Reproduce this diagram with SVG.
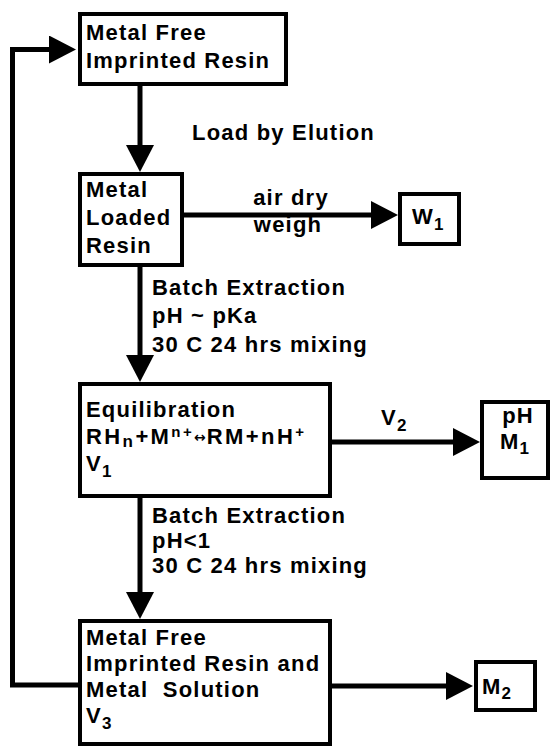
<svg xmlns="http://www.w3.org/2000/svg" width="552" height="747" viewBox="0 0 552 747">
<style>
text{font-family:"Liberation Sans",Arial,sans-serif;font-weight:bold;font-size:22px;letter-spacing:1.2px;fill:#000}
.box{fill:#fff;stroke:#000;stroke-width:4}
.con{fill:none;stroke:#000;stroke-width:5}
.sub{font-size:17px}
.sup{font-size:15px}
.eqn{letter-spacing:2.4px}
</style>
<defs>
<marker id="ah" markerUnits="userSpaceOnUse" markerWidth="27" markerHeight="28" refX="0" refY="14" orient="auto">
<path d="M0,0 L27,14 L0,28 z" fill="#000"/>
</marker>
</defs>
<rect width="552" height="747" fill="#fff"/>
<g id="connectors">
<path class="con" d="M140,86 V145" marker-end="url(#ah)"/>
<path class="con" d="M184,215 H371" marker-end="url(#ah)"/>
<path class="con" d="M140,267 V355" marker-end="url(#ah)"/>
<path class="con" d="M332,442 H453" marker-end="url(#ah)"/>
<path class="con" d="M140,498 V592" marker-end="url(#ah)"/>
<path class="con" d="M332,686 H446" marker-end="url(#ah)"/>
<path class="con" d="M78,685 H12.5 V49.5 H49" marker-end="url(#ah)"/>
<text x="192" y="140">Load by Elution</text>
<text x="291" y="205" text-anchor="middle">air dry</text>
<text x="288" y="232" text-anchor="middle">weigh</text>
<text x="152" y="295">Batch Extraction</text>
<text x="152" y="323">pH ~ pKa</text>
<text x="152" y="352">30 C 24 hrs mixing</text>
<text x="381" y="425">V<tspan class="sub" dy="6">2</tspan></text>
<text x="152" y="523">Batch Extraction</text>
<text x="152" y="548">pH&lt;1</text>
<text x="152" y="573">30 C 24 hrs mixing</text>
</g>
<g id="n1">
<rect class="box" x="80" y="14" width="206" height="70"/>
<text x="86" y="40">Metal Free</text>
<text x="86" y="68">Imprinted Resin</text>
</g>
<g id="n2">
<rect class="box" x="80" y="174" width="102" height="91"/>
<text x="86" y="197">Metal</text>
<text x="86" y="225">Loaded</text>
<text x="86" y="253">Resin</text>
</g>
<g id="w1">
<rect class="box" x="400" y="194" width="59" height="50"/>
<text x="412" y="224">W<tspan class="sub" dy="6">1</tspan></text>
</g>
<g id="eq">
<rect class="box" x="80" y="384" width="250" height="112"/>
<text x="86" y="417">Equilibration</text>
<text x="86" y="444" class="eqn">RH<tspan class="sub" dy="3">n</tspan><tspan dy="-3">+M</tspan><tspan class="sup" dy="-7">n+</tspan><tspan style="font-size:14px;font-family:'DejaVu Sans',sans-serif;letter-spacing:1px" dy="5">↔</tspan><tspan dy="2">RM+nH</tspan><tspan class="sup" dy="-7">+</tspan></text>
<text x="86" y="471">V<tspan class="sub" dy="6">1</tspan></text>
</g>
<g id="m1">
<rect class="box" x="482" y="402" width="66" height="76"/>
<text x="518" y="423" text-anchor="middle">pH</text>
<text x="500" y="449">M<tspan class="sub" dy="5">1</tspan></text>
</g>
<g id="n3">
<rect class="box" x="80" y="621" width="250" height="123"/>
<text x="86" y="645">Metal Free</text>
<text x="86" y="671">Imprinted Resin and</text>
<text x="86" y="697" style="white-space:pre">Metal  Solution</text>
<text x="86" y="723">V<tspan class="sub" dy="6">3</tspan></text>
</g>
<g id="m2">
<rect class="box" x="476" y="662" width="59" height="48"/>
<text x="482" y="694">M<tspan class="sub" dy="5">2</tspan></text>
</g>
</svg>
